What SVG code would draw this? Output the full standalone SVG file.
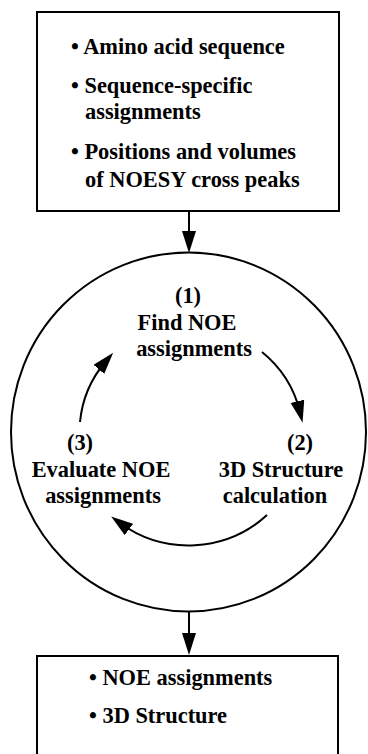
<svg xmlns="http://www.w3.org/2000/svg" width="368" height="754" viewBox="0 0 368 754">
<style>
text{font-family:"Liberation Serif","Times New Roman",serif;font-weight:bold;font-size:22.4px;fill:#000}
.c{text-anchor:middle}
.box{fill:#fff;stroke:#000;stroke-width:2}
.ln{fill:none;stroke:#000;stroke-width:2}
</style>
<defs>
<marker id="ah" markerUnits="userSpaceOnUse" markerWidth="24" markerHeight="15" refX="11" refY="7" orient="auto">
<path d="M0,0 L22,7 L0,14 z" fill="#000"/>
</marker>
</defs>
<rect width="368" height="754" fill="#fff"/>
<g id="input">
<rect class="box" x="37" y="12" width="302" height="199"/>
<text x="71" y="54">• Amino acid sequence</text>
<text x="71" y="93">• Sequence-specific</text>
<text x="85" y="119">assignments</text>
<text x="71" y="159">• Positions and volumes</text>
<text x="85" y="187">of NOESY cross peaks</text>
</g>
<g id="cycle">
<ellipse class="ln" cx="188.5" cy="432" rx="177.5" ry="179.5"/>
</g>
<g id="step1">
<text class="c" x="188" y="303">(1)</text>
<text class="c" x="187" y="330">Find NOE</text>
<text class="c" x="194" y="356">assignments</text>
</g>
<g id="step2">
<text class="c" x="300" y="450">(2)</text>
<text class="c" x="281" y="477">3D Structure</text>
<text class="c" x="275" y="503">calculation</text>
</g>
<g id="step3">
<text class="c" x="80" y="450">(3)</text>
<text class="c" x="101" y="477">Evaluate NOE</text>
<text class="c" x="103" y="503">assignments</text>
</g>
<g id="output">
<rect class="box" x="37" y="656" width="301" height="120"/>
<text x="89" y="685">• NOE assignments</text>
<text x="89" y="723">• 3D Structure</text>
</g>
<g id="connectors">
<line class="ln" x1="189" y1="211" x2="189" y2="242" marker-end="url(#ah)"/>
<line class="ln" x1="189" y1="612" x2="189" y2="644" marker-end="url(#ah)"/>
<path class="ln" d="M262,352 A114,111 0 0 1 300,412" marker-end="url(#ah)"/>
<path class="ln" d="M267,515 A114,111 0 0 1 120,523" marker-end="url(#ah)"/>
<path class="ln" d="M80,422 A114,111 0 0 1 106,361" marker-end="url(#ah)"/>
</g>
</svg>
